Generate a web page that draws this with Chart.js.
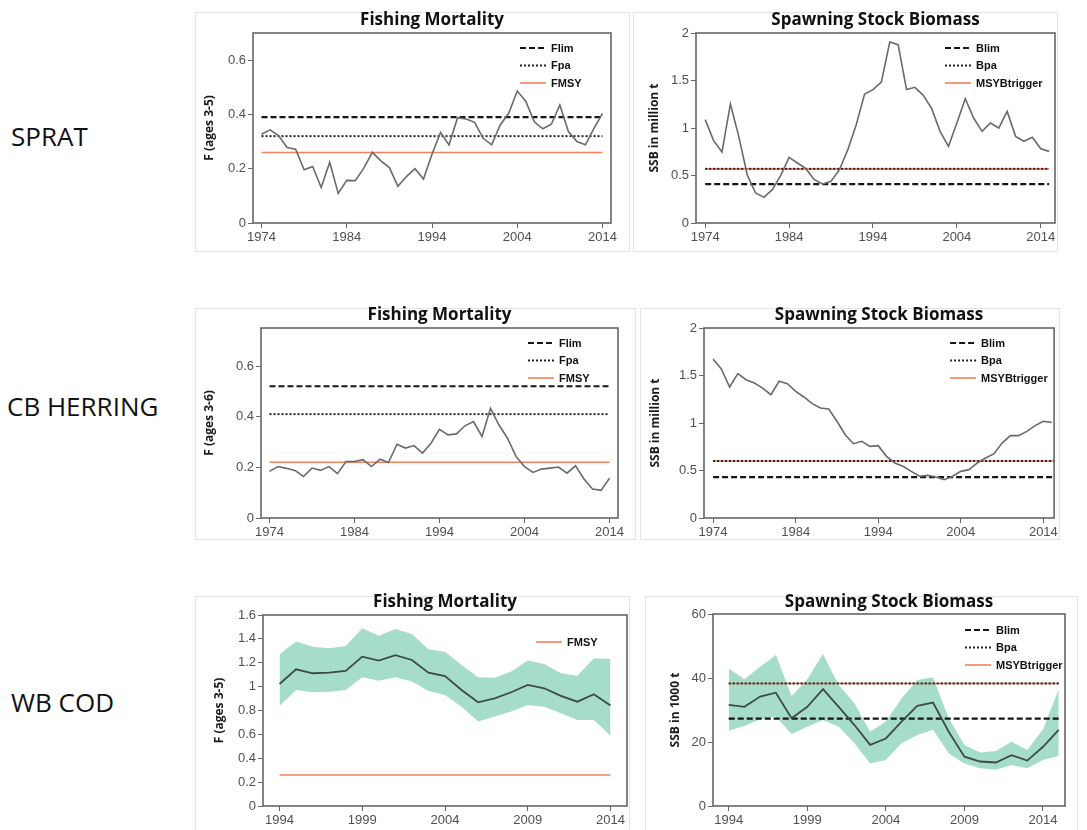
<!DOCTYPE html>
<html>
<head>
<meta charset="utf-8">
<script src="https://cdn.jsdelivr.net/npm/chart.js@4.4.0/dist/chart.umd.min.js"></script>
<style>
  body { margin: 0; background: #fff; width: 1087px; height: 830px; position: relative; overflow: hidden; font-family: "Open Sans", sans-serif; }
  .frame { position: absolute; border: 1px solid #e3e3e3; box-sizing: border-box; }
  canvas { position: absolute; }
  .stock { position: absolute; font-size: 26px; color: #111; line-height: 1; white-space: nowrap; }
</style>
</head>
<body>

<div class="stock" style="left:11px; top:123px;">SPRAT</div>
<div class="stock" style="left:7px; top:393px;">CB HERRING</div>
<div class="stock" style="left:11px; top:689px;">WB COD</div>

<div class="frame" style="left:195px; top:12px; width:435px; height:240px;"></div>
<div class="frame" style="left:633px; top:12px; width:425px; height:240px;"></div>
<div class="frame" style="left:195px; top:308px; width:441px; height:232px;"></div>
<div class="frame" style="left:640px; top:308px; width:420px; height:232px;"></div>
<div class="frame" style="left:195px; top:596px; width:435px; height:240px;"></div>
<div class="frame" style="left:645px; top:596px; width:433px; height:240px;"></div>

<canvas id="spratF"></canvas>
<canvas id="spratSSB"></canvas>
<canvas id="herringF"></canvas>
<canvas id="herringSSB"></canvas>
<canvas id="codF"></canvas>
<canvas id="codSSB"></canvas>

<script>
// ---- data ----
const spratYearsF = [1974,1975,1976,1977,1978,1979,1980,1981,1982,1983,1984,1985,1986,1987,1988,1989,1990,1991,1992,1993,1994,1995,1996,1997,1998,1999,2000,2001,2002,2003,2004,2005,2006,2007,2008,2009,2010,2011,2012,2013,2014];
const spratF = [0.327,0.343,0.322,0.278,0.272,0.196,0.208,0.131,0.224,0.109,0.157,0.156,0.202,0.260,0.229,0.204,0.135,0.171,0.200,0.162,0.253,0.334,0.288,0.388,0.383,0.371,0.312,0.288,0.361,0.404,0.486,0.449,0.373,0.347,0.364,0.435,0.337,0.300,0.288,0.349,0.404];

const spratYearsSSB = [1974,1975,1976,1977,1978,1979,1980,1981,1982,1983,1984,1985,1986,1987,1988,1989,1990,1991,1992,1993,1994,1995,1996,1997,1998,1999,2000,2001,2002,2003,2004,2005,2006,2007,2008,2009,2010,2011,2012,2013,2014,2015];
const spratSSB = [1.088,0.867,0.747,1.253,0.912,0.509,0.316,0.270,0.351,0.502,0.691,0.632,0.572,0.456,0.411,0.439,0.561,0.772,1.035,1.358,1.404,1.484,1.905,1.877,1.404,1.428,1.344,1.204,0.965,0.807,1.053,1.309,1.105,0.965,1.053,1.000,1.175,0.912,0.860,0.902,0.782,0.754];

const herringYearsF = [1974,1975,1976,1977,1978,1979,1980,1981,1982,1983,1984,1985,1986,1987,1988,1989,1990,1991,1992,1993,1994,1995,1996,1997,1998,1999,2000,2001,2002,2003,2004,2005,2006,2007,2008,2009,2010,2011,2012,2013,2014];
const herringF = [0.184,0.203,0.196,0.188,0.164,0.197,0.188,0.203,0.175,0.223,0.223,0.230,0.203,0.232,0.219,0.291,0.276,0.286,0.256,0.295,0.350,0.328,0.332,0.364,0.381,0.322,0.433,0.367,0.315,0.243,0.203,0.180,0.193,0.197,0.201,0.177,0.206,0.154,0.114,0.109,0.157];

const herringYearsSSB = [1974,1975,1976,1977,1978,1979,1980,1981,1982,1983,1984,1985,1986,1987,1988,1989,1990,1991,1992,1993,1994,1995,1996,1997,1998,1999,2000,2001,2002,2003,2004,2005,2006,2007,2008,2009,2010,2011,2012,2013,2014,2015];
const herringSSB = [1.674,1.568,1.379,1.519,1.456,1.421,1.368,1.298,1.439,1.414,1.333,1.274,1.204,1.158,1.147,1.018,0.877,0.782,0.807,0.754,0.761,0.649,0.579,0.544,0.491,0.439,0.449,0.432,0.404,0.439,0.491,0.509,0.579,0.632,0.674,0.789,0.867,0.867,0.912,0.972,1.018,1.007];

const codYearsF = [1994,1995,1996,1997,1998,1999,2000,2001,2002,2003,2004,2005,2006,2007,2008,2009,2010,2011,2012,2013,2014];
const codF     = [1.022,1.145,1.112,1.117,1.131,1.251,1.218,1.263,1.223,1.117,1.089,0.972,0.869,0.902,0.953,1.014,0.986,0.922,0.874,0.936,0.841];
const codFHigh = [1.271,1.377,1.335,1.321,1.341,1.489,1.427,1.483,1.441,1.313,1.293,1.182,1.078,1.075,1.126,1.218,1.190,1.112,1.092,1.237,1.232];
const codFLow  = [0.838,0.972,0.953,0.958,0.972,1.078,1.050,1.078,1.042,0.964,0.930,0.832,0.707,0.749,0.791,0.846,0.832,0.777,0.721,0.721,0.589];

const codYearsSSB = [1994,1995,1996,1997,1998,1999,2000,2001,2002,2003,2004,2005,2006,2007,2008,2009,2010,2011,2012,2013,2014,2015];
const codSSB     = [31.6,31.0,34.2,35.4,27.4,31.0,36.5,31.0,25.3,19.1,21.1,26.4,31.3,32.3,23.2,15.4,13.9,13.6,15.9,14.2,18.5,23.8];
const codSSBHigh = [43.0,39.6,43.5,47.2,34.4,39.6,47.5,37.8,32.1,23.2,26.4,33.6,39.4,40.2,27.4,19.1,16.7,17.2,20.1,17.5,24.0,36.5];
const codSSBLow  = [23.5,25.0,27.1,28.0,22.5,24.8,26.9,24.8,19.6,13.3,14.4,19.6,22.2,23.8,16.5,13.3,11.8,11.3,12.8,11.8,14.4,15.6];

// reference points
const spratFlim = 0.39, spratFpa = 0.32, spratFmsy = 0.26;
const spratBlim = 0.41, spratBpa = 0.57, spratBtrigger = 0.57;
const herringFlim = 0.52, herringFpa = 0.41, herringFmsy = 0.22;
const herringBlim = 0.43, herringBpa = 0.60, herringBtrigger = 0.60;
const codFmsy = 0.26;
const codBlim = 27.3, codBpa = 38.3, codBtrigger = 38.3;

// tick labels
const yearTicksLong = [1974, 1984, 1994, 2004, 2014];
const yearTicksCod = [1994, 1999, 2004, 2009, 2014];
const fTicks = [0, 0.2, 0.4, 0.6];
const ssbTicks = [0, 0.5, 1, 1.5, 2];
const codFTicks = [0, 0.2, 0.4, 0.6, 0.8, 1, 1.2, 1.4, 1.6];
const codSSBTicks = [0, 20, 40, 60];

// ---- helpers ----
const xy = (years, vals) => years.map((x, i) => ({ x: x, y: vals[i] }));

const refStyles = {
  lim: { borderColor: '#161616', borderDash: [6, 3], borderWidth: 2.2, order: 2 },
  pa:  { borderColor: '#222222', borderDash: [2, 2], borderWidth: 2, order: 1 },
  msy: { borderColor: '#f3805e', borderDash: [], borderWidth: 1.6, order: 3 }
};
function refLine(label, x0, x1, v, kind) {
  return Object.assign({
    label: label,
    data: [{ x: x0, y: v }, { x: x1, y: v }],
    pointRadius: 0, fill: false, inLegend: true
  }, refStyles[kind]);
}
function series(years, vals, color, width) {
  return { label: 'value', data: xy(years, vals), borderColor: color, borderWidth: width,
           pointRadius: 0, fill: false, tension: 0, order: 0 };
}
function band(years, low, high) {
  return [
    { label: 'low', data: xy(years, low), borderWidth: 0, pointRadius: 0, fill: false, order: 6 },
    { label: 'high', data: xy(years, high), borderWidth: 0, pointRadius: 0,
      fill: '-1', backgroundColor: 'rgba(150, 215, 192, 0.85)', order: 5 }
  ];
}

// plot frame + small legend in the top right of the plot area
const framePlugin = {
  id: 'frame',
  afterDatasetsDraw(chart, args, o) {
    const ctx = chart.ctx, a = chart.chartArea;
    ctx.save();
    ctx.strokeStyle = '#666';
    ctx.lineWidth = 1.6;
    ctx.setLineDash([]);
    ctx.strokeRect(a.left, a.top, a.right - a.left, a.bottom - a.top);

    let y = a.top + o.legendTop;
    const x0 = a.right - o.legendRight;
    chart.data.datasets.filter(d => d.inLegend).forEach(d => {
      ctx.beginPath();
      ctx.setLineDash(d.borderDash || []);
      ctx.strokeStyle = d.borderColor;
      ctx.lineWidth = d.borderWidth;
      ctx.moveTo(x0, y);
      ctx.lineTo(x0 + 26, y);
      ctx.stroke();
      ctx.setLineDash([]);
      ctx.fillStyle = '#111';
      ctx.font = 'bold 11px "Liberation Sans", Arial, sans-serif';
      ctx.textBaseline = 'middle';
      ctx.fillText(d.label, x0 + 31, y + 0.5);
      y += 17.5;
    });
    ctx.restore();
  }
};

// p: canvas box, plot area, title centre, axis ranges
function panel(id, p) {
  const cv = document.getElementById(id);
  cv.width = p.w; cv.height = p.h;
  cv.style.left = p.x + 'px'; cv.style.top = p.y + 'px';
  const titleLH = 17 * 1.2;
  const padTop = p.titleY - p.y - titleLH / 2;
  const padBottom = p.plot.t - p.titleY - titleLH / 2;

  new Chart(cv.getContext('2d'), {
    type: 'line',
    data: { datasets: p.datasets },
    plugins: [framePlugin],
    options: {
      responsive: false,
      animation: false,
      devicePixelRatio: 1,
      layout: { padding: { left: 0, top: 0, bottom: 0, right: p.x + p.w - p.plot.r } },
      plugins: {
        legend: { display: false },
        tooltip: { enabled: false },
        title: {
          display: true, text: p.title, fullSize: false, color: '#111',
          font: { family: '"Open Sans", sans-serif', size: 17, weight: 'bold' },
          padding: { top: padTop, bottom: padBottom }
        },
        frame: { legendTop: p.legendTop, legendRight: p.legendRight }
      },
      scales: {
        x: {
          type: 'linear', min: p.xMin, max: p.xMax,
          border: { display: false },
          grid: { drawOnChartArea: false, drawTicks: true, tickLength: 5, color: '#666' },
          ticks: { color: '#505050', font: { family: '"Liberation Sans", Arial, sans-serif', size: 13 },
                   padding: 2, maxRotation: 0, autoSkip: false, callback: v => String(v) },
          afterBuildTicks: s => { s.ticks = p.xTicks.map(v => ({ value: v })); },
          afterFit: s => { s.height = p.y + p.h - p.plot.b; }
        },
        y: {
          type: 'linear', min: 0, max: p.yMax,
          border: { display: false },
          grid: { drawOnChartArea: false, drawTicks: true, tickLength: 5, color: '#666' },
          ticks: { color: '#505050', font: { family: '"Liberation Sans", Arial, sans-serif', size: 13 },
                   padding: 2, callback: v => String(v) },
          afterBuildTicks: s => { s.ticks = p.yTicks.map(v => ({ value: v })); },
          afterFit: s => { s.width = p.plot.l - p.x; },
          title: { display: true, text: p.yTitle, color: '#1a1a1a',
                   font: { family: '"Open Sans", sans-serif', size: 12, weight: 'bold' },
                   padding: { top: p.yTitlePad, bottom: 0 } }
        }
      }
    }
  });
}

// ---- SPRAT ----
panel('spratF', {
  x: 195, y: 9, w: 435, h: 243, titleY: 20,
  plot: { l: 253, t: 33, r: 611, b: 223 },
  title: 'Fishing Mortality', yTitle: 'F (ages 3-5)', yTitlePad: 7.8,
  xMin: 1973, xMax: 2015, xTicks: yearTicksLong, yMax: 0.7, yTicks: fTicks,
  legendTop: 15, legendRight: 91,
  datasets: [
    series(spratYearsF, spratF, '#6a6a6a', 1.6),
    refLine('Flim', 1974, 2014, spratFlim, 'lim'),
    refLine('Fpa', 1974, 2014, spratFpa, 'pa'),
    refLine('FMSY', 1974, 2014, spratFmsy, 'msy')
  ]
});
panel('spratSSB', {
  x: 633, y: 9, w: 425, h: 243, titleY: 20,
  plot: { l: 696, t: 33, r: 1055, b: 223 },
  title: 'Spawning Stock Biomass', yTitle: 'SSB in million t', yTitlePad: 14.8,
  xMin: 1972.9, xMax: 2015.7, xTicks: yearTicksLong, yMax: 2, yTicks: ssbTicks,
  legendTop: 15, legendRight: 110,
  datasets: [
    series(spratYearsSSB, spratSSB, '#6a6a6a', 1.6),
    refLine('Blim', 1974, 2015, spratBlim, 'lim'),
    refLine('Bpa', 1974, 2015, spratBpa, 'pa'),
    refLine('MSYBtrigger', 1974, 2015, spratBtrigger, 'msy')
  ]
});

// ---- CB HERRING ----
panel('herringF', {
  x: 195, y: 305, w: 441, h: 235, titleY: 315,
  plot: { l: 261, t: 328, r: 618, b: 518 },
  title: 'Fishing Mortality', yTitle: 'F (ages 3-6)', yTitlePad: 7.8,
  xMin: 1973, xMax: 2015, xTicks: yearTicksLong, yMax: 0.75, yTicks: fTicks,
  legendTop: 15, legendRight: 90,
  datasets: [
    series(herringYearsF, herringF, '#6a6a6a', 1.6),
    refLine('Flim', 1974, 2014, herringFlim, 'lim'),
    refLine('Fpa', 1974, 2014, herringFpa, 'pa'),
    refLine('FMSY', 1974, 2014, herringFmsy, 'msy')
  ]
});
panel('herringSSB', {
  x: 640, y: 305, w: 420, h: 235, titleY: 315,
  plot: { l: 704, t: 328, r: 1057, b: 518 },
  title: 'Spawning Stock Biomass', yTitle: 'SSB in million t', yTitlePad: 8.8,
  xMin: 1972.9, xMax: 2015.3, xTicks: yearTicksLong, yMax: 2, yTicks: ssbTicks,
  legendTop: 15, legendRight: 104,
  datasets: [
    series(herringYearsSSB, herringSSB, '#6a6a6a', 1.6),
    refLine('Blim', 1974, 2015.3, herringBlim, 'lim'),
    refLine('Bpa', 1974, 2015.3, herringBpa, 'pa'),
    refLine('MSYBtrigger', 1974, 2015.3, herringBtrigger, 'msy')
  ]
});

// ---- WB COD ----
panel('codF', {
  x: 195, y: 592, w: 435, h: 238, titleY: 602,
  plot: { l: 263, t: 615, r: 627, b: 806 },
  title: 'Fishing Mortality', yTitle: 'F (ages 3-5)', yTitlePad: 17.8,
  xMin: 1993, xMax: 2015, xTicks: yearTicksCod, yMax: 1.6, yTicks: codFTicks,
  legendTop: 27, legendRight: 91,
  datasets: [
    series(codYearsF, codF, '#3e4a46', 1.8),
    refLine('FMSY', 1994, 2014, codFmsy, 'msy'),
    ...band(codYearsF, codFLow, codFHigh)
  ]
});
panel('codSSB', {
  x: 645, y: 592, w: 430, h: 238, titleY: 602,
  plot: { l: 713, t: 614, r: 1065, b: 806 },
  title: 'Spawning Stock Biomass', yTitle: 'SSB in 1000 t', yTitlePad: 23.8,
  xMin: 1993, xMax: 2015.4, xTicks: yearTicksCod, yMax: 60, yTicks: codSSBTicks,
  legendTop: 16, legendRight: 100,
  datasets: [
    series(codYearsSSB, codSSB, '#3e4a46', 1.8),
    refLine('Blim', 1994, 2015, codBlim, 'lim'),
    refLine('Bpa', 1994, 2015, codBpa, 'pa'),
    refLine('MSYBtrigger', 1994, 2015, codBtrigger, 'msy'),
    ...band(codYearsSSB, codSSBLow, codSSBHigh)
  ]
});
</script>
</body>
</html>
